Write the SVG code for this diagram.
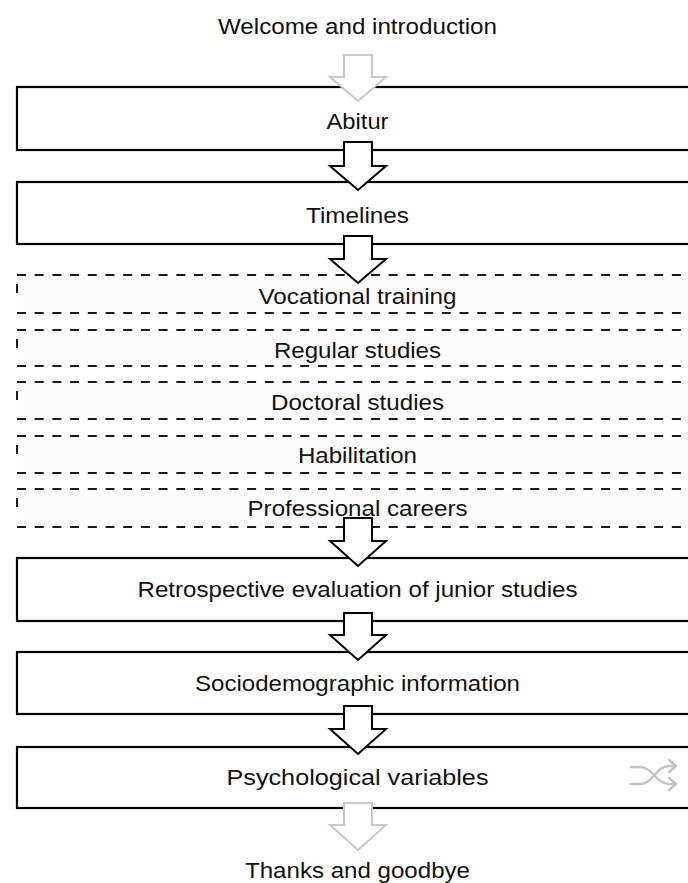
<svg xmlns="http://www.w3.org/2000/svg" width="688" height="883" viewBox="0 0 688 883">
<style>
.t{font-family:"Liberation Sans",Arial,sans-serif;font-size:22px;fill:#111111;text-anchor:middle}
.box{fill:#ffffff;stroke:#000;stroke-width:2.2}
.dbox{fill:#fcfcfc;stroke:none}
.dline{fill:none;stroke:#1a1a1a;stroke-width:2;stroke-dasharray:9 8.7}
.arr{fill:#ffffff;stroke:#000;stroke-width:2;stroke-linejoin:miter}
.garr{fill:#ffffff;stroke:#c8c8c8;stroke-width:2;stroke-linejoin:miter}
.shuf{fill:none;stroke:#c4c4c4;stroke-width:2.4;stroke-linecap:round;stroke-linejoin:round}
</style>
<rect width="688" height="883" fill="#ffffff"/>
<g id="n-welcome"><text class="t" x="357.5" y="34" textLength="279" lengthAdjust="spacingAndGlyphs">Welcome and introduction</text></g>
<g id="n-abitur"><rect class="box" x="17" y="87" width="700" height="63"/><text class="t" x="357.5" y="129" textLength="62" lengthAdjust="spacingAndGlyphs">Abitur</text></g>
<g id="n-timelines"><rect class="box" x="17" y="182" width="700" height="62"/><text class="t" x="357.5" y="223" textLength="103" lengthAdjust="spacingAndGlyphs">Timelines</text></g>
<g id="n-vocational"><rect class="dbox" x="17" y="275" width="700" height="38"/><path class="dline" d="M17,275 H700 M17,313 H700 M17,284 V296"/><text class="t" x="357.5" y="304" textLength="198" lengthAdjust="spacingAndGlyphs">Vocational training</text></g>
<g id="n-regular"><rect class="dbox" x="17" y="330" width="700" height="36"/><path class="dline" d="M17,330 H700 M17,366 H700 M17,339 V351"/><text class="t" x="357.5" y="358" textLength="167" lengthAdjust="spacingAndGlyphs">Regular studies</text></g>
<g id="n-doctoral"><rect class="dbox" x="17" y="382" width="700" height="37"/><path class="dline" d="M17,382 H700 M17,419 H700 M17,391 V403"/><text class="t" x="357.5" y="410" textLength="173" lengthAdjust="spacingAndGlyphs">Doctoral studies</text></g>
<g id="n-habilitation"><rect class="dbox" x="17" y="436" width="700" height="37"/><path class="dline" d="M17,436 H700 M17,473 H700 M17,445 V457"/><text class="t" x="357.5" y="463" textLength="119" lengthAdjust="spacingAndGlyphs">Habilitation</text></g>
<g id="n-professional"><rect class="dbox" x="17" y="489" width="700" height="38"/><path class="dline" d="M17,489 H700 M17,527 H700 M17,498 V510"/><text class="t" x="357.5" y="516" textLength="220" lengthAdjust="spacingAndGlyphs">Professional careers</text></g>
<g id="n-retro"><rect class="box" x="17" y="558" width="700" height="63"/><text class="t" x="357.5" y="597" textLength="440" lengthAdjust="spacingAndGlyphs">Retrospective evaluation of junior studies</text></g>
<g id="n-socio"><rect class="box" x="17" y="652" width="700" height="62"/><text class="t" x="357.5" y="691" textLength="325" lengthAdjust="spacingAndGlyphs">Sociodemographic information</text></g>
<g id="n-psych"><rect class="box" x="17" y="747" width="700" height="61"/><text class="t" x="357.5" y="785" textLength="262" lengthAdjust="spacingAndGlyphs">Psychological variables</text>
<g id="shuffle-icon"><path class="shuf" d="M631,767 H640 C653,767 656,784 669,784 H676 M669,778 L676,784 L669,790"/><path class="shuf" d="M631,784 H640 C653,784 656,766 669,766 H676 M669,760 L676,766 L669,772"/></g></g>
<g id="n-thanks"><text class="t" x="357.5" y="878" textLength="225" lengthAdjust="spacingAndGlyphs">Thanks and goodbye</text></g>
<g id="connectors">
<path class="garr" d="M344,55 H372 V77 H386 L358,101 L330,77 H344 Z"/>
<path class="arr" d="M344,142 H372 V166 H386 L358,190 L330,166 H344 Z"/>
<path class="arr" d="M344,236 H372 V259 H386 L358,283 L330,259 H344 Z"/>
<path class="arr" d="M344,518 H372 V541 H386 L358,566 L330,541 H344 Z"/>
<path class="arr" d="M344,613 H372 V635 H386 L358,660 L330,635 H344 Z"/>
<path class="arr" d="M344,706 H372 V729 H386 L358,754 L330,729 H344 Z"/>
<path class="garr" d="M344,803 H372 V825 H386 L358,850 L330,825 H344 Z"/>
</g>
</svg>
